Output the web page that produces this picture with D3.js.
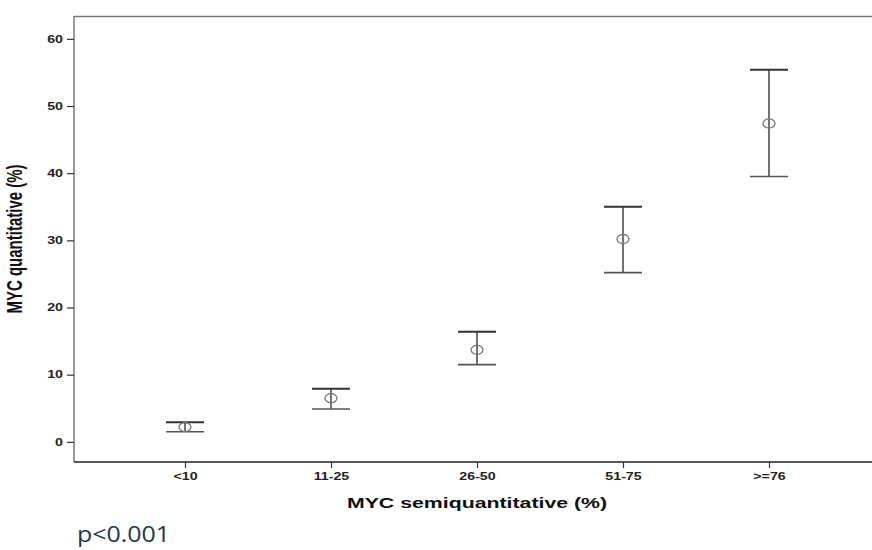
<!DOCTYPE html>
<html>
<head>
<meta charset="utf-8">
<script src="https://cdn.jsdelivr.net/npm/d3@7"></script>
<style>
  html, body { margin: 0; padding: 0; background: #fff; overflow: hidden; }
  svg { display: block; }
</style>
</head>
<body>
<svg id="chart" width="872" height="550"></svg>
<script>
// MYC semiquantitative groups vs quantitative mean with error bars
const categories = ['<10', '11-25', '26-50', '51-75', '>=76'];
const means = [2.2, 6.5, 13.7, 30.2, 47.4];
const lower = [1.5, 4.9, 11.5, 25.2, 39.5];
const upper = [2.9, 7.9, 16.4, 35.0, 55.4];
const yTicks = [0, 10, 20, 30, 40, 50, 60];

const data = categories.map((c, i) => ({ cat: c, mean: means[i], lo: lower[i], hi: upper[i] }));

const svg = d3.select('#chart');
const plotL = 74, plotR = 872, plotT = 16, plotB = 462;
const SX = 1.42; // the source figure is stretched sideways
const font = 'Liberation Sans, Arial, sans-serif';

const x = d3.scalePoint().domain(categories).range([185, 769]);
const y = d3.scaleLinear().domain([-3, 63.4]).range([plotB, plotT]);

// frame: top border
svg.append('line')
  .attr('x1', plotL).attr('x2', plotR)
  .attr('y1', plotT + 0.5).attr('y2', plotT + 0.5)
  .attr('stroke', '#777').attr('stroke-width', 1.3);

// y axis
const yAxis = svg.append('g')
  .attr('transform', `translate(${plotL},0)`)
  .call(d3.axisLeft(y).tickValues(yTicks).tickSize(7).tickPadding(3));
yAxis.select('.domain').attr('d', `M0,${plotT}V${plotB}`).attr('stroke', '#666').attr('stroke-width', 1.3);
yAxis.selectAll('.tick line').attr('stroke', '#333').attr('stroke-width', 1.2);
yAxis.selectAll('.tick text')
  .attr('x', 0)
  .attr('transform', `translate(-11,0) scale(${SX},1)`)
  .attr('font-family', font)
  .attr('font-weight', 'bold').attr('font-size', '10px').attr('fill', '#222');

// x axis
const xAxis = svg.append('g')
  .attr('transform', `translate(0,${plotB})`)
  .call(d3.axisBottom(x).tickSize(6).tickPadding(5));
xAxis.select('.domain').attr('d', `M${plotL},0H${plotR}`).attr('stroke', '#222').attr('stroke-width', 1.5);
xAxis.selectAll('.tick line').attr('stroke', '#333').attr('stroke-width', 1.2);
xAxis.selectAll('.tick text')
  .attr('transform', `scale(${SX},1)`)
  .attr('font-family', font)
  .attr('font-weight', 'bold').attr('font-size', '10px').attr('fill', '#222');

// axis titles
svg.append('text')
  .attr('transform', `translate(${x('26-50')},508) scale(${SX},1)`)
  .attr('text-anchor', 'middle')
  .attr('font-family', font)
  .attr('font-weight', 'bold').attr('font-size', '15px').attr('fill', '#111')
  .text('MYC semiquantitative (%)');

svg.append('text')
  .attr('transform', `translate(22,239) rotate(-90) scale(1,${SX})`)
  .attr('text-anchor', 'middle')
  .attr('font-family', font)
  .attr('font-weight', 'bold').attr('font-size', '15px').attr('fill', '#111')
  .text('MYC quantitative (%)');

// error bars
const capW = 38;
const bars = svg.append('g').selectAll('g').data(data).join('g');

bars.append('line')
  .attr('x1', d => x(d.cat)).attr('x2', d => x(d.cat))
  .attr('y1', d => y(d.hi)).attr('y2', d => y(d.lo))
  .attr('stroke', '#444').attr('stroke-width', 1.5);

bars.append('line')
  .attr('x1', d => x(d.cat) - capW / 2).attr('x2', d => x(d.cat) + capW / 2)
  .attr('y1', d => y(d.hi)).attr('y2', d => y(d.hi))
  .attr('stroke', '#333').attr('stroke-width', 2);

bars.append('line')
  .attr('x1', d => x(d.cat) - capW / 2).attr('x2', d => x(d.cat) + capW / 2)
  .attr('y1', d => y(d.lo)).attr('y2', d => y(d.lo))
  .attr('stroke', '#555').attr('stroke-width', 1.6);

bars.append('ellipse')
  .attr('cx', d => x(d.cat)).attr('cy', d => y(d.mean))
  .attr('rx', 6).attr('ry', 4.5)
  .attr('fill', 'none').attr('stroke', '#777').attr('stroke-width', 1.3);

// p value note
svg.append('text')
  .attr('x', 77).attr('y', 542)
  .attr('textLength', 93).attr('lengthAdjust', 'spacingAndGlyphs')
  .attr('font-family', 'Open Sans, Noto Sans, sans-serif')
  .attr('font-size', '22px').attr('fill', '#22384f')
  .text('p<0.001');
</script>
</body>
</html>
